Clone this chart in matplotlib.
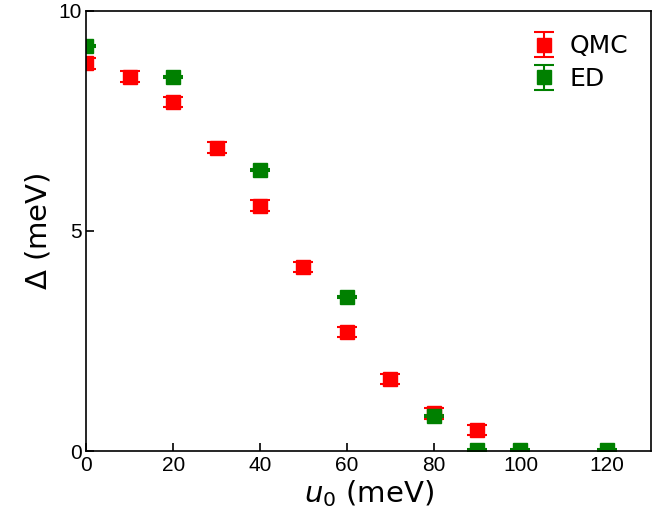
import matplotlib
matplotlib.use('Agg')
import matplotlib.pyplot as plt
import numpy as np

# QMC data
qmc_u0 = [0, 10, 20, 30, 40, 50, 60, 70, 80, 90]
qmc_gap = [8.80, 8.50, 7.93, 6.89, 5.57, 4.18, 2.70, 1.64, 0.86, 0.48]
qmc_err = [0.12, 0.12, 0.12, 0.12, 0.12, 0.12, 0.12, 0.12, 0.12, 0.12]

# ED data
ed_u0 = [0, 20, 40, 60, 80, 90, 100, 120]
ed_gap = [9.20, 8.50, 6.39, 3.50, 0.80, 0.02, 0.02, 0.02]
ed_err = [0.02, 0.02, 0.02, 0.02, 0.02, 0.02, 0.02, 0.02]

fig, ax = plt.subplots(figsize=(6.64, 5.32), dpi=100)
fig.subplots_adjust(left=0.13, right=0.98, top=0.98, bottom=0.152)

ax.errorbar(qmc_u0, qmc_gap, yerr=qmc_err, fmt='s', color='red', ms=10,
            capsize=7, elinewidth=1.5, capthick=1.5, label='QMC')
ax.errorbar(ed_u0, ed_gap, yerr=ed_err, fmt='s', color='green', ms=10,
            capsize=7, elinewidth=1.5, capthick=1.5, label='ED')

ax.set_xlim(0, 130)
ax.set_ylim(0, 10)
ax.set_xticks([0, 20, 40, 60, 80, 100, 120])
ax.set_yticks([0, 5, 10])
ax.tick_params(direction='in', length=6, width=1.2)
for lbl in ax.get_xticklabels() + ax.get_yticklabels():
    lbl.set_family('Liberation Sans')
    lbl.set_fontsize(15)
for spine in ax.spines.values():
    spine.set_linewidth(1.2)

ax.set_xlabel(r'$u_0$ (meV)', fontsize=21, labelpad=2)
ax.set_ylabel(r'$\Delta$ (meV)', fontsize=21, labelpad=4)
ax.legend(frameon=False, fontsize=18, loc='upper right',
          bbox_to_anchor=(0.991, 0.986),
          labelspacing=0.35, handletextpad=0.02, borderaxespad=0.3)

fig.savefig('out.png', dpi=100)
